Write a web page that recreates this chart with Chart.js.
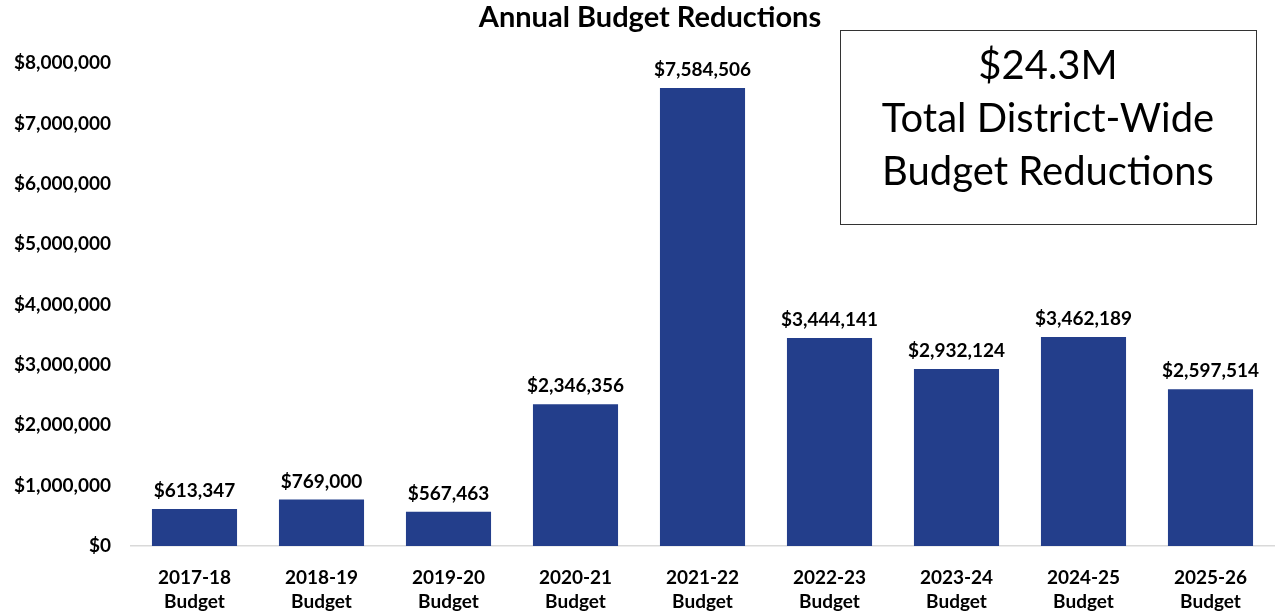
<!DOCTYPE html>
<html>
<head>
<meta charset="utf-8">
<title>Annual Budget Reductions</title>
<script src="https://cdn.jsdelivr.net/npm/chart.js@4"></script>
<style>
  html, body { margin: 0; padding: 0; background: #fff; }
  #wrap { width: 1279px; height: 615px; position: relative; }
</style>
</head>
<body>
<div id="wrap"><canvas id="budgetChart"></canvas></div>
<script>
var years = ['2017-18', '2018-19', '2019-20', '2020-21', '2021-22', '2022-23', '2023-24', '2024-25', '2025-26'];
var reductions = [613347, 769000, 567463, 2346356, 7584506, 3444141, 2932124, 3462189, 2597514];
var totalText = ['$24.3M', 'Total District-Wide', 'Budget Reductions'];
var chartTitle = 'Annual Budget Reductions';

var labelFont = 'Lato, "Open Sans", sans-serif';

function money(v) {
    return '$' + Math.round(v).toLocaleString('en-US');
}

// value labels above each bar, plus the title and the total box
var extrasPlugin = {
    id: 'extras',
    afterDatasetsDraw: function(chart) {
        var ctx = chart.ctx;
        var meta = chart.getDatasetMeta(0);
        ctx.save();
        ctx.fillStyle = '#000';
        ctx.font = 'bold 19px ' + labelFont;
        ctx.textAlign = 'center';
        ctx.textBaseline = 'alphabetic';
        meta.data.forEach(function(bar, i) {
            ctx.fillText(money(reductions[i]), bar.x, bar.y - 12);
        });

        ctx.font = 'bold 29px ' + labelFont;
        ctx.textBaseline = 'middle';
        ctx.fillText(chartTitle, 650, 18);

        // summary box
        ctx.strokeStyle = '#333';
        ctx.lineWidth = 1;
        ctx.fillStyle = '#fff';
        ctx.fillRect(840.5, 30.5, 416, 194);
        ctx.strokeRect(840.5, 30.5, 416, 194);
        ctx.fillStyle = '#000';
        ctx.font = '40px ' + labelFont;
        var ys = [66, 119, 172];
        totalText.forEach(function(t, i) {
            ctx.fillText(t, 1048, ys[i]);
        });
        ctx.restore();
    }
};

var config = {
    type: 'bar',
    data: {
        labels: years.map(function(y) { return [y, 'Budget']; }),
        datasets: [{
            data: reductions,
            backgroundColor: '#233E8B',
            borderWidth: 0,
            categoryPercentage: 1,
            barPercentage: 0.67
        }]
    },
    options: {
        responsive: false,
        animation: false,
        layout: { padding: { top: 63, right: 5, left: 0, bottom: 0 } },
        plugins: {
            legend: { display: false },
            tooltip: { enabled: false }
        },
        scales: {
            x: {
                grid: { display: false, drawTicks: false },
                border: { display: true, color: '#d9d9d9', width: 1.5 },
                ticks: {
                    color: '#000',
                    padding: 20,
                    font: { family: labelFont, size: 19, weight: 'bold', lineHeight: 1.27 },
                    maxRotation: 0
                },
                afterFit: function(scale) { scale.height = 69; }
            },
            y: {
                min: 0,
                max: 8000000,
                grid: { display: false, drawTicks: false },
                border: { display: false },
                ticks: {
                    stepSize: 1000000,
                    color: '#000',
                    padding: 20,
                    font: { family: labelFont, size: 19, weight: 'bold' },
                    callback: function(v) { return money(v); }
                },
                afterFit: function(scale) { scale.width = 131; }
            }
        }
    },
    plugins: [extrasPlugin]
};

var canvas = document.getElementById('budgetChart');
canvas.width = 1279;
canvas.height = 615;
var budgetChart = new Chart(canvas.getContext('2d'), config);
</script>
</body>
</html>
